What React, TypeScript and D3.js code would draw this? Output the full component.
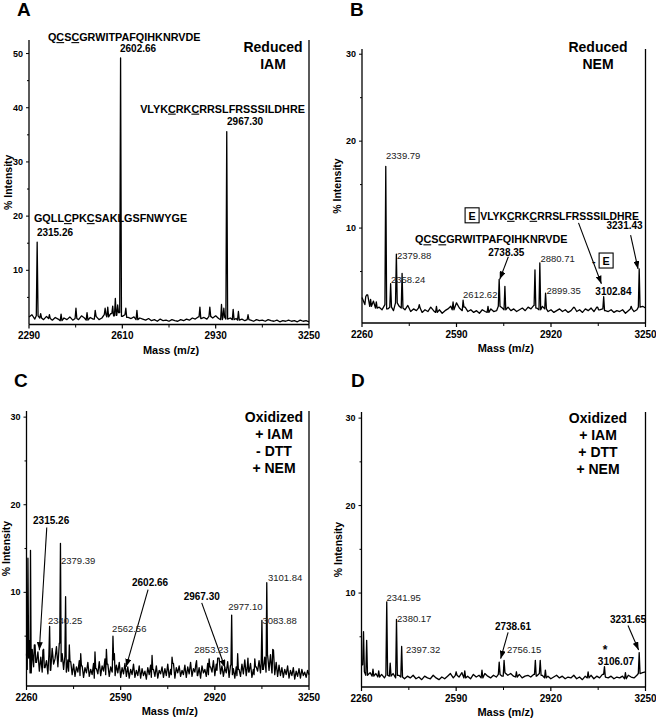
import React from "react";
import * as d3 from "d3";

const FONT = "Arial, 'Liberation Sans', Helvetica, sans-serif";

type Pt = [number, number];
type Label = {
  t: string;
  m: number;
  v: number;
  anchor?: "start" | "middle" | "end";
  bold?: boolean;
  size?: number;
  box?: boolean;
};

// ---------- A : Reduced, IAM ----------
const noiseA = [
  1.4, 1.8, 1.0, 1.6, 1.2, 0.9, 1.5, 1.1, 0.8, 1.3,
  1.0, 0.7, 1.2, 0.9, 1.4, 0.8, 1.1, 0.9, 1.6, 1.2,
  0.8, 1.3, 1.0, 1.5, 0.9, 1.2, 1.8, 1.4, 2.0, 1.6,
  1.7, 2.2, 1.5, 1.8, 1.3, 1.1, 1.4, 0.9, 1.2, 1.0,
  0.8, 1.1, 0.7, 0.9, 0.6, 1.0, 0.7, 0.8, 0.6, 0.9,
  0.7, 0.6, 0.9, 0.7, 1.0, 0.8, 1.2, 1.0, 1.4, 1.1,
  1.3, 1.0, 1.5, 1.2, 1.6, 1.1, 0.9, 1.3, 1.0, 1.2,
  0.9, 1.1, 0.8, 1.0, 0.7, 0.9, 0.8, 0.6, 0.9, 0.7,
  0.8, 0.6, 0.9, 0.7, 0.6, 0.8, 0.5, 0.7, 0.6, 0.8,
  0.6, 0.7, 0.5, 0.8, 0.6, 0.7, 0.5,
];
const peaksA: Pt[] = [
  [2318, 15.2], [2604, 49.2], [2968, 35.6],
  [2330, 2.0], [2360, 1.8], [2400, 1.9], [2451, 3.0], [2489, 2.2], [2517, 2.6],
  [2551, 3.0], [2560, 3.2], [2577, 3.4], [2586, 4.8], [2594, 3.6], [2622, 3.0],
  [2660, 2.6], [2876, 3.2], [2910, 3.2], [2950, 3.7], [2958, 3.0], [2990, 2.8],
  [3008, 2.4], [3041, 1.8],
];
const labelsA: Label[] = [
  { t: "Q_CS_CGRWITPAFQIHKNRVDE", m: 2355, v: 52.3, bold: true, size: 10.8 },
  { t: "2602.66", m: 2602, v: 50.3, bold: true },
  { t: "VLYK_CRK_CRRSLFRSSSILDHRE", m: 2671, v: 39.1, bold: true, size: 10.8 },
  { t: "2967.30", m: 2969, v: 36.8, bold: true },
  { t: "GQLL_CPK_CSAKLGSFNWYGE", m: 2307, v: 18.9, bold: true, size: 10.8 },
  { t: "2315.26", m: 2317, v: 16.4, bold: true },
];
const arrowsA: [Pt, Pt][] = [];
const titleA = ["Reduced", "IAM"];

// ---------- B : Reduced, NEM ----------
const noiseB = [
  2.0, 1.2, 2.3, 1.0, 1.6, 0.8, 0.9, 0.6, 1.2, 0.7,
  0.9, 0.5, 1.4, 1.0, 0.8, 0.6, 1.1, 0.4, 0.7, 0.5,
  0.8, 0.3, 0.6, 0.4, 0.9, 0.5, 0.3, 0.6, 0.2, 0.5,
  0.7, 1.0, 0.6, 1.4, 0.8, 0.5, 0.9, 0.4, 0.6, 0.3,
  0.5, 0.2, 0.6, 0.4, 0.3, 0.7, 0.4, 0.5, 1.0, 0.8,
  0.6, 0.9, 0.5, 0.7, 0.4, 0.6, 0.8, 0.5, 0.9, 0.7,
  1.1, 0.8, 0.6, 1.0, 0.7, 0.4, 0.6, 0.3, 0.5, 0.7,
  0.4, 0.6, 0.3, 0.5, 0.8, 0.4, 0.6, 0.3, 0.7, 0.5,
  0.8, 0.4, 0.9, 0.6, 0.7, 0.5, 0.4, 0.6, 0.3, 0.5,
  0.4, 0.6, 0.2, 0.5, 0.7, 0.4, 0.6, 0.9, 1.0, 0.8,
];
const peaksB: Pt[] = [
  [2273, 2.1], [2290, 1.8], [2310, 1.5], [2343, 17.1], [2360, 3.6], [2380, 7.0],
  [2400, 4.8], [2460, 1.2], [2520, 1.0], [2578, 1.5], [2613, 1.7], [2700, 1.0],
  [2739, 4.1], [2759, 3.3], [2864, 5.2], [2881, 6.0], [2901, 2.5], [3000, 0.9],
  [3083, 0.9], [3104, 2.1], [3200, 1.0], [3228, 5.3],
];
const labelsB: Label[] = [
  { t: "2339.79", m: 2344, v: 17.95 },
  { t: "2379.88", m: 2382, v: 6.4 },
  { t: "2358.24", m: 2361, v: 3.65 },
  { t: "2612.62", m: 2613, v: 2.0 },
  { t: "Q_CS_CGRWITPAFQIHKNRVDE", m: 2445, v: 8.25, bold: true, size: 10.8 },
  { t: "2738.35", m: 2764, v: 6.75, bold: true, anchor: "middle" },
  { t: "2880.71", m: 2883, v: 6.1 },
  { t: "2899.35", m: 2904, v: 2.4 },
  { t: "3102.84", m: 3138, v: 2.3, bold: true, anchor: "middle" },
  { t: "3231.43", m: 3240, v: 9.85, bold: true, anchor: "end" },
  { t: "E", m: 2620, v: 10.95, bold: true, size: 10.8, box: true },
  { t: "VLYK_CRK_CRRSLFRSSSILDHRE", m: 2673, v: 10.95, bold: true, size: 10.4 },
  { t: "-", m: 3063, v: 5.75, bold: true, size: 10.8 },
  { t: "E", m: 3088, v: 5.75, bold: true, size: 10.8, box: true },
];
const arrowsB: [Pt, Pt][] = [
  [[2771, 6.7], [2741, 4.1]],
  [[3016, 10.6], [3096, 3.6]],
  [[3198, 9.2], [3224, 5.3]],
];
const titleB = ["Reduced", "NEM"];

// ---------- C : Oxidized + IAM - DTT + NEM ----------
const noiseC = [
  3.0, 1.2, 2.5, 0.8, 3.5, 1.5, 4.0, 2.0, 3.2, 1.0,
  2.6, 0.9, 3.4, 1.4, 2.2, 0.7, 2.9, 1.1, 3.6, 1.8,
  2.4, 3.8, 1.5, 4.2, 2.1, 3.0, 1.2, 2.7, 0.9, 2.3,
  1.0, 2.1, 0.6, 1.8, 0.4, 1.5, 0.9, 2.2, 0.5, 1.6,
  0.3, 1.4, 0.8, 2.0, 0.4, 1.2, 0.6, 1.9, 0.2, 1.3,
  0.7, 2.1, 0.5, 1.6, 1.0, 2.4, 0.6, 1.8, 0.4, 1.5,
  0.9, 2.3, 0.5, 1.7, 0.8, 2.0, 0.3, 1.4, 0.7, 1.9,
  0.4, 1.5, 0.2, 1.2, 0.6, 1.8, 0.3, 1.1, 0.5, 1.6,
  0.2, 1.3, 0.5, 1.0, 0.1, 1.4, 0.6, 1.7, 0.3, 1.2,
  0.4, 1.6, 0.2, 1.1, 0.7, 1.5, 0.3, 1.3, 0.5, 1.8,
  0.3, 1.2, 0.6, 1.9, 0.2, 1.4, 0.8, 1.6, 0.4, 1.1,
  0.6, 1.7, 0.3, 1.5, 0.7, 2.0, 0.4, 1.3, 0.9, 1.8,
  0.5, 1.4, 0.2, 1.6, 0.8, 1.2, 0.4, 1.9, 0.6, 1.5,
  0.9, 2.2, 0.5, 1.8, 1.1, 2.5, 0.7, 1.6, 0.4, 1.4,
  0.8, 2.1, 0.3, 1.7, 0.6, 1.3, 0.2, 1.5, 0.5, 1.2,
  0.4, 1.8, 0.7, 2.3, 0.5, 1.4, 0.9, 1.9, 0.3, 1.2,
  0.6, 1.5, 1.0, 2.2, 0.8, 1.9, 1.2, 2.6, 0.9, 2.8,
  1.1, 2.9, 0.8, 3.4, 0.6, 2.0, 0.4, 1.7, 0.5, 1.4,
  0.3, 1.2, 0.6, 1.6, 0.2, 1.1, 0.5, 1.4, 0.1, 1.0,
  0.4, 1.3, 0.2, 1.2, 0.5, 0.9, 0.3, 1.1, 0.6,
];
const peaksC: Pt[] = [
  [2265, 13.9], [2270, 4.5], [2274, 14.8], [2290, 4.0], [2320, 3.5], [2341, 6.1],
  [2379, 15.6], [2397, 9.5], [2410, 4.0], [2450, 3.0], [2500, 3.2], [2540, 3.5],
  [2563, 5.0], [2568, 3.0], [2700, 2.8], [2770, 2.6], [2856, 2.2], [2900, 2.4],
  [2930, 2.5], [2979, 7.4], [3000, 3.0], [3036, 2.5], [3060, 2.4], [3085, 6.8],
  [3102, 11.1], [3123, 3.5],
];
const labelsC: Label[] = [
  { t: "2315.26", m: 2283, v: 17.8, bold: true },
  { t: "2379.39", m: 2381, v: 13.25 },
  { t: "2340.25", m: 2335, v: 6.35 },
  { t: "2562.56", m: 2560, v: 5.5 },
  { t: "2602.66", m: 2693, v: 10.75, bold: true, anchor: "middle" },
  { t: "2967.30", m: 2874, v: 9.15, bold: true, anchor: "middle" },
  { t: "2853.23", m: 2848, v: 3.1 },
  { t: "2977.10", m: 2967, v: 8.0 },
  { t: "3083.88", m: 3087, v: 6.35 },
  { t: "3101.84", m: 3106, v: 11.3 },
];
const arrowsC: [Pt, Pt][] = [
  [[2331, 17.4], [2305, 3.4]],
  [[2686, 10.3], [2609, 1.5]],
  [[2874, 8.8], [2956, 1.4]],
];
const titleC = ["Oxidized", "+ IAM", "- DTT", "+ NEM"];

// ---------- D : Oxidized + IAM + DTT + NEM ----------
const noiseD = [
  1.8, 1.0, 0.6, 0.9, 0.5, 0.8, 0.4, 0.7, 0.3, 0.6,
  0.5, 0.8, 0.3, 0.6, 0.4, 0.2, 0.5, 0.3, 0.6, 0.2,
  0.4, 0.1, 0.5, 0.3, 0.2, 0.6, 0.3, 0.1, 0.4, 0.2,
  0.5, 0.8, 0.3, 0.6, 0.4, 0.9, 0.3, 0.5, 0.2, 0.7,
  0.4, 0.6, 0.3, 0.8, 0.5, 0.3, 0.6, 0.4, 0.7, 0.5,
  0.9, 0.6, 0.8, 0.5, 0.4, 0.7, 0.3, 0.5, 0.6, 0.4,
  0.7, 0.5, 0.8, 0.6, 0.3, 0.5, 0.2, 0.4, 0.6, 0.3,
  0.5, 0.2, 0.4, 0.3, 0.6, 0.2, 0.4, 0.1, 0.5, 0.3,
  0.6, 0.2, 0.5, 0.3, 0.7, 0.4, 0.3, 0.5, 0.2, 0.4,
  0.3, 0.5, 0.2, 0.6, 0.4, 0.3, 0.6, 0.8, 0.9, 1.0,
];
const peaksD: Pt[] = [
  [2267, 5.6], [2278, 4.6], [2300, 1.3], [2320, 1.1], [2348, 9.0], [2360, 2.0],
  [2382, 7.0], [2400, 3.9], [2590, 1.0], [2620, 1.1], [2680, 1.2], [2740, 2.1],
  [2757, 2.3], [2800, 1.0], [2866, 2.3], [2883, 2.3], [2901, 1.2], [3050, 1.0],
  [3107, 1.6], [3180, 0.9], [3228, 3.2],
];
const labelsD: Label[] = [
  { t: "2341.95", m: 2347, v: 9.1 },
  { t: "2380.17", m: 2384, v: 6.65 },
  { t: "2397.32", m: 2415, v: 3.1 },
  { t: "2738.61", m: 2788, v: 5.8, bold: true, anchor: "middle" },
  { t: "2756.15", m: 2767, v: 3.1 },
  { t: "*", m: 3109, v: 3.0, bold: true, anchor: "middle", size: 12 },
  { t: "3106.07", m: 3147, v: 1.75, bold: true, anchor: "middle" },
  { t: "3231.65", m: 3252, v: 6.6, bold: true, anchor: "end" },
];
const arrowsD: [Pt, Pt][] = [
  [[2771, 5.5], [2745, 2.5]],
  [[3189, 6.3], [3226, 3.5]],
];
const titleD = ["Oxidized", "+ IAM", "+ DTT", "+ NEM"];

const ticksTop = [10, 20, 30, 40, 50];

type PanelDef = {
  letter: string; lx: number; ly: number;
  x0: number; x1: number; yTop: number; yBot: number;
  xDom: [number, number]; yDom: [number, number];
  xMajor: number[]; xMinor: number[]; yMax: number;
  noise: number[]; noiseStep: number; peaks: Pt[]; hw: number;
  labels: Label[]; arrows: [Pt, Pt][];
  title: string[]; tx: number; ty: number; yTitleX: number;
};

const panels: PanelDef[] = [
  {
    letter: "A", lx: 17, ly: 16, x0: 29, x1: 309, yTop: 40, yBot: 324.5,
    xDom: [2290, 3250], yDom: [0, 52.5], xMajor: [2290, 2610, 2930, 3250], xMinor: [2450, 2770, 3090],
    yMax: 50, noise: noiseA, noiseStep: 10, peaks: peaksA, hw: 3, labels: labelsA, arrows: arrowsA,
    title: titleA, tx: 273, ty: 52, yTitleX: 8,
  },
  {
    letter: "B", lx: 350, ly: 16, x0: 362, x1: 645.5, yTop: 49, yBot: 323,
    xDom: [2260, 3250], yDom: [-0.92, 30.6], xMajor: [2260, 2590, 2920, 3250], xMinor: [2425, 2755, 3085],
    yMax: 30, noise: noiseB, noiseStep: 10, peaks: peaksB, hw: 3, labels: labelsB, arrows: arrowsB,
    title: titleB, tx: 598, ty: 52, yTitleX: 337,
  },
  {
    letter: "C", lx: 14, ly: 387, x0: 26.5, x1: 309, yTop: 411, yBot: 686,
    xDom: [2260, 3250], yDom: [-0.69, 30.7], xMajor: [2260, 2590, 2920, 3250], xMinor: [2425, 2755, 3085],
    yMax: 30, noise: noiseC, noiseStep: 5, peaks: peaksC, hw: 2.5, labels: labelsC, arrows: arrowsC,
    title: titleC, tx: 274, ty: 422, yTitleX: 6,
  },
  {
    letter: "D", lx: 351, ly: 387, x0: 361.5, x1: 645.5, yTop: 412, yBot: 687,
    xDom: [2260, 3250], yDom: [-0.74, 30.7], xMajor: [2260, 2590, 2920, 3250], xMinor: [2425, 2755, 3085],
    yMax: 30, noise: noiseD, noiseStep: 10, peaks: peaksD, hw: 3, labels: labelsD, arrows: arrowsD,
    title: titleD, tx: 598, ty: 423, yTitleX: 338,
  },
];

function buildSpectrum(start: number, step: number, noise: number[], peaks: Pt[], hw: number): Pt[] {
  const near = (m: number) =>
    noise[Math.max(0, Math.min(noise.length - 1, Math.round((m - start) / step)))];
  const pts: Pt[] = noise
    .map((v, i) => [start + i * step, v] as Pt)
    .filter(([m]) => !peaks.some(([pm]) => Math.abs(m - pm) <= hw));
  peaks.forEach(([pm, h]) => {
    pts.push([pm - hw, near(pm - hw)], [pm, h], [pm + hw, near(pm + hw)]);
  });
  return pts.sort((a, b) => a[0] - b[0]);
}

// "_" marks the next letter as underlined (modified cysteine)
function seqSpans(s: string) {
  const out: React.ReactNode[] = [];
  for (let i = 0; i < s.length; i++) {
    if (s[i] === "_") {
      out.push(<tspan key={i} style={{ textDecoration: "underline" }}>{s[i + 1]}</tspan>);
      i++;
    } else {
      out.push(<tspan key={i}>{s[i]}</tspan>);
    }
  }
  return out;
}

function Panel({ p }: { p: PanelDef }) {
  const x = d3.scaleLinear().domain(p.xDom).range([p.x0, p.x1]);
  const y = d3.scaleLinear().domain(p.yDom).range([p.yBot, p.yTop]);
  const data = buildSpectrum(p.xDom[0], p.noiseStep, p.noise, p.peaks, p.hw);
  const line = d3.line<Pt>().x(d => x(d[0])).y(d => y(d[1]));
  const yMajor = ticksTop.filter(t => t <= p.yMax);
  const yMinor = d3.range(5, p.yMax, 10);
  const midY = (p.yTop + p.yBot) / 2;

  return (
    <g>
      <text x={p.lx} y={p.ly} fontSize={19} fontWeight="bold">{p.letter}</text>
      <path d={line(data) || ""} fill="none" stroke="#000" strokeWidth={1.3} strokeLinejoin="round" />
      {/* axes */}
      <line x1={p.x0} x2={p.x0} y1={p.yTop} y2={p.yBot} stroke="#000" strokeWidth={1.3} />
      <line x1={p.x1} x2={p.x1} y1={p.yTop} y2={p.yBot} stroke="#000" strokeWidth={1.3} />
      <line x1={p.x0} x2={p.x1} y1={p.yBot} y2={p.yBot} stroke="#000" strokeWidth={1.3} />
      {p.xMajor.map(t => (
        <g key={"xM" + t}>
          <line x1={x(t)} x2={x(t)} y1={p.yBot} y2={p.yBot + 4} stroke="#000" strokeWidth={1.2} />
          <text x={x(t)} y={p.yBot + 14.5} textAnchor="middle" fontSize={10} fontWeight="bold">{t}</text>
        </g>
      ))}
      {p.xMinor.map(t => (
        <line key={"xm" + t} x1={x(t)} x2={x(t)} y1={p.yBot} y2={p.yBot + 3} stroke="#000" strokeWidth={1} />
      ))}
      {yMajor.map(t => (
        <g key={"yM" + t}>
          <line x1={p.x0 - 3} x2={p.x0} y1={y(t)} y2={y(t)} stroke="#000" strokeWidth={1} />
          <text x={p.x0 - 6} y={y(t) + 3} textAnchor="end" fontSize={9} fontWeight="bold">{t}</text>
        </g>
      ))}
      {yMinor.map(t => (
        <line key={"ym" + t} x1={p.x0 - 2} x2={p.x0} y1={y(t)} y2={y(t)} stroke="#000" strokeWidth={1} />
      ))}
      <text
        transform={`translate(${p.yTitleX + 4},${midY}) rotate(-90)`}
        textAnchor="middle" fontSize={10.5} fontWeight="bold"
      >% Intensity</text>
      <text x={(p.x0 + p.x1) / 2 + 2} y={p.yBot + 29} textAnchor="middle" fontSize={11} fontWeight="bold">
        Mass (m/z)
      </text>
      {/* condition title */}
      {p.title.map((t, i) => (
        <text key={t + i} x={p.tx} y={p.ty + i * 17} textAnchor="middle" fontSize={14} fontWeight="bold">{t}</text>
      ))}
      {/* arrows */}
      {p.arrows.map(([a, b], i) => (
        <line key={"ar" + i} x1={x(a[0])} y1={y(a[1])} x2={x(b[0])} y2={y(b[1])}
          stroke="#000" strokeWidth={1.1} markerEnd="url(#head)" />
      ))}
      {/* labels */}
      {p.labels.map((l, i) => {
        const lx = x(l.m);
        const ly = y(l.v);
        const fs = l.size || (l.bold ? 10 : 9.5);
        if (l.box) {
          return (
            <g key={"lb" + i}>
              <rect x={lx} y={ly - 12} width={14} height={15} fill="none" stroke="#000" strokeWidth={1.1} />
              <text x={lx + 7} y={ly} textAnchor="middle" fontSize={fs} fontWeight="bold">{l.t}</text>
            </g>
          );
        }
        return (
          <text key={"lb" + i} x={lx} y={ly} textAnchor={l.anchor || "start"} fontSize={fs}
            fontWeight={l.bold ? "bold" : "normal"} fill={l.bold ? "#000" : "#222"}>
            {l.t.includes("_") ? seqSpans(l.t) : l.t}
          </text>
        );
      })}
    </g>
  );
}

export default function App() {
  return (
    <svg width={656} height={722} style={{ display: "block", position: "absolute", left: 0, top: 0, background: "#fff" }}
      fontFamily={FONT}>
      <defs>
        <marker id="head" viewBox="0 0 8 6" refX={8} refY={3} markerWidth={8} markerHeight={6}
          markerUnits="userSpaceOnUse" orient="auto">
          <path d="M0,0L8,3L0,6Z" fill="#000" />
        </marker>
      </defs>
      <rect width={656} height={722} fill="#fff" />
      {panels.map(p => <Panel key={p.letter} p={p} />)}
    </svg>
  );
}
